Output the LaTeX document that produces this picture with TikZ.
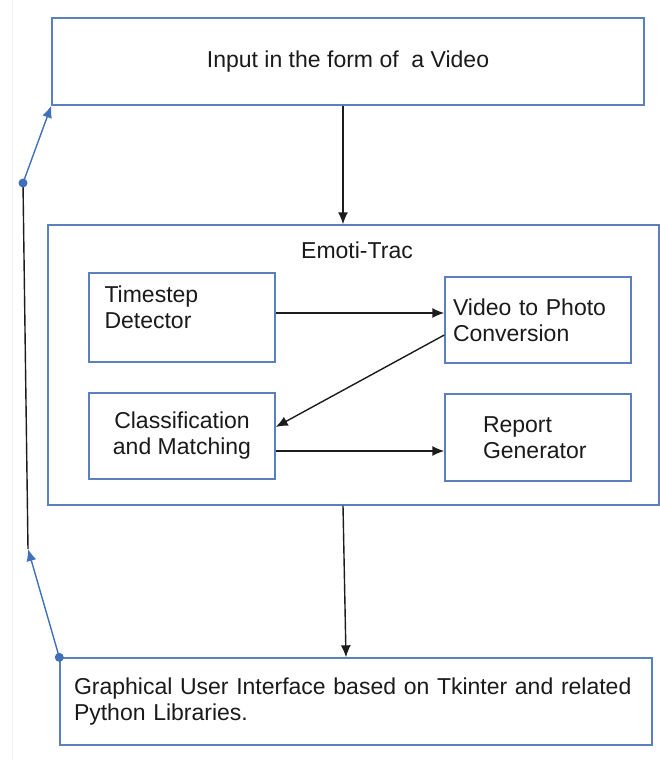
\documentclass[tikz,border=0pt]{standalone}
\usepackage{fontspec}
\setmainfont{Liberation Sans}
\usepackage{tikz}
\usetikzlibrary{calc,arrows.meta}
\usetikzlibrary{positioning}
\definecolor{et-box}{HTML}{5B80BE}
\definecolor{et-link}{HTML}{4070B8}
\definecolor{et-arrow}{HTML}{1C1C1C}
\definecolor{et-text}{HTML}{1A1A1A}
\definecolor{et-edge}{HTML}{EEEEEE}

\begin{document}
\begin{tikzpicture}[x=1pt, y=-1pt, >={Latex[length=12pt, width=10pt]},
    box/.style={draw=et-box, line width=1.4pt, inner sep=0pt},
    lbl/.style={font=\fontsize{23}{26}\selectfont, text=et-text, inner sep=0pt},
    arr/.style={et-arrow, line width=1.4pt, ->},
    link/.style={et-link, line width=1.4pt, ->}]
    \useasboundingbox (0,0) rectangle (660,760);

    % Page edge (faint)
    \draw[et-edge, line width=1pt] (12,0) -- (12,760);

    % Input box
    \node[box, lbl, minimum width=592pt, minimum height=87pt] (input) at (348, 61.5) {Input in the form of\ \ a Video};

    % Emoti-Trac container
    \node[box, minimum width=611pt, minimum height=280pt] (emoti) at (353.5, 365) {};
    \node[lbl, anchor=base] (title) at (357, 258) {Emoti-Trac};

    % Modules
    \node[box, minimum width=186pt, minimum height=89pt] (ts) at (182, 317.5) {};
    \node[lbl, anchor=north west, align=left] (tstext) at ([xshift=16pt, yshift=-13pt]ts.north west) {Timestep\\Detector};
    \node[box, lbl, minimum width=186pt, minimum height=86pt, text width=170pt, align=left] (vid) at (538, 320) {Video to Photo\\Conversion};
    \node[box, lbl, minimum width=186pt, minimum height=86pt, align=center] (cls) at (182, 436) {Classification\\and Matching};
    \node[box, lbl, minimum width=186pt, minimum height=87pt, text width=110pt, align=left] (rep) at (538, 437.5) {Report\\Generator};

    % GUI box
    \node[box, lbl, minimum width=592pt, minimum height=87pt, text width=564pt, align=left] (gui) at (356, 701.5) {Graphical User Interface based on Tkinter and related\\Python Libraries.};

    % Flow arrows
    \draw[arr] ([xshift=-5pt]input.south) -- ([xshift=-10.5pt]emoti.north);
    \draw[arr] ([yshift=4.5pt]ts.east) -- ([yshift=4.5pt]ts.east -| vid.west);
    \draw[arr] ([yshift=-15pt]vid.west) -- ([yshift=9pt]cls.east);
    \draw[arr] ([yshift=-15pt]cls.east) -- ([yshift=-15pt]cls.east -| rep.west);
    \draw[arr] ([xshift=-10.5pt]emoti.south) -- ([xshift=-10pt]gui.north);

    % Feedback from GUI back to input
    \coordinate (lo) at (28, 549);
    \coordinate (hi) at (23, 183);
    \draw[link] (gui.north west) -- (lo);
    \draw[et-arrow, line width=1.4pt] (lo) -- (hi);
    \draw[link] (hi) -- (input.south west);
    \fill[et-link] (gui.north west) circle (4.5pt);
    \fill[et-link] (hi) circle (4.5pt);

\end{tikzpicture}
\end{document}
